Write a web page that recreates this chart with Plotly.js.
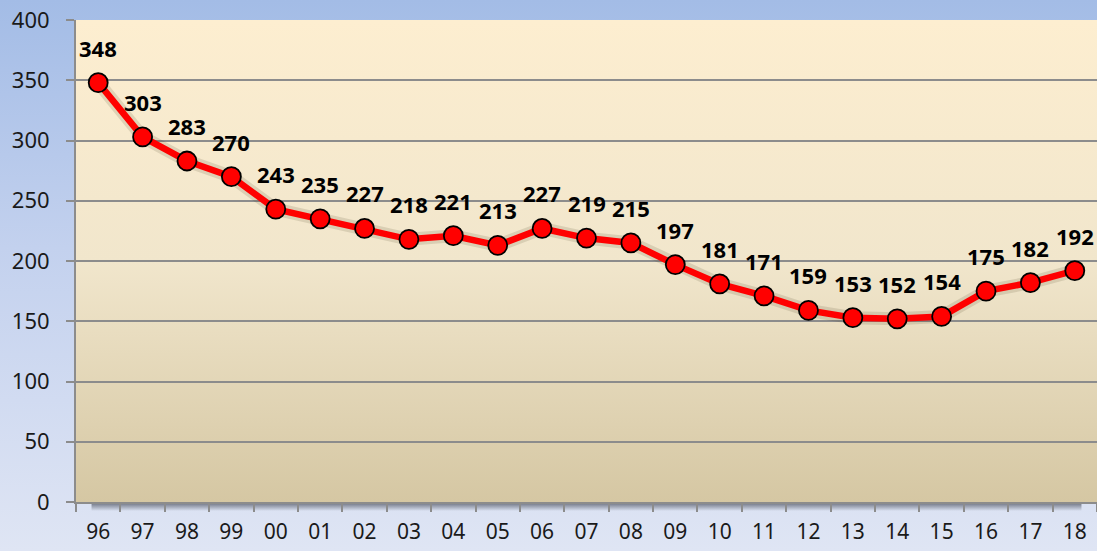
<!DOCTYPE html>
<html>
<head>
<meta charset="utf-8">
<script src="https://cdn.plot.ly/plotly-3.0.1.min.js"></script>
<style>
  html, body { margin: 0; padding: 0; }
  #chart { width: 1097px; height: 551px; background: linear-gradient(to bottom, #a3bce6 0%, #c3d1ee 45%, #dfe5f4 100%); }
</style>
</head>
<body>
<div id="chart"></div>
<script>
const years = ["96","97","98","99","00","01","02","03","04","05","06","07","08","09","10","11","12","13","14","15","16","17","18"];
const values = [348,303,283,270,243,235,227,218,221,213,227,219,215,197,181,171,159,153,152,154,175,182,192];
const yTicks = [0,50,100,150,200,250,300,350,400];

const plotBg = 'data:image/svg+xml;utf8,' + encodeURIComponent(
  '<svg xmlns="http://www.w3.org/2000/svg" width="100" height="100" preserveAspectRatio="none">' +
  '<defs><linearGradient id="g" x1="0" y1="0" x2="0" y2="1">' +
  '<stop offset="0" stop-color="#fdeed0"/><stop offset="0.5" stop-color="#f1e6cc"/><stop offset="1" stop-color="#d5c7a3"/>' +
  '</linearGradient></defs><rect width="100" height="100" fill="url(#g)"/></svg>');

const bottomShadow = 'data:image/svg+xml;utf8,' + encodeURIComponent(
  '<svg xmlns="http://www.w3.org/2000/svg" width="100" height="10" preserveAspectRatio="none">' +
  '<defs><linearGradient id="s" x1="0" y1="0" x2="0" y2="1">' +
  '<stop offset="0" stop-color="#3a3f4c" stop-opacity="0.75"/><stop offset="1" stop-color="#3a3f4c" stop-opacity="0"/>' +
  '</linearGradient></defs><rect width="100" height="10" fill="url(#s)"/></svg>');

const shadow = {
  x: years, y: values, type: 'scatter', mode: 'lines',
  line: {color: 'rgba(40,30,0,0.12)', width: 13},
  hoverinfo: 'skip', showlegend: false, cliponaxis: false
};
const main = {
  x: years, y: values, type: 'scatter', mode: 'lines+markers',
  line: {color: '#ff0000', width: 6.5},
  marker: {size: 19, color: '#ff0000', line: {color: '#000000', width: 1.8}},
  showlegend: false, cliponaxis: false
};

// category axis: annotations located by category index (labels like "00" would be read as numbers)
const annotations = years.map((yr, i) => ({
  x: i, y: values[i], text: String(values[i]), showarrow: false,
  yshift: 35,
  font: {family: 'Noto Sans, sans-serif', size: 22, color: '#000000', weight: 'bold'}
}));

const layout = {
  width: 1097, height: 551,
  margin: {l: 76, r: 0, t: 20, b: 49, pad: 0},
  paper_bgcolor: 'rgba(0,0,0,0)',
  plot_bgcolor: 'rgba(0,0,0,0)',
  font: {family: 'Noto Sans, sans-serif', color: '#1a1a1a', size: 22},
  xaxis: {
    type: 'category', range: [-0.5, 22.5], tickson: 'boundaries',
    ticks: 'outside', ticklen: 8, tickwidth: 2, tickcolor: '#8c8c8c',
    showgrid: false, showline: true, linecolor: '#8c8c8c', linewidth: 2,
    tickfont: {size: 21, color: '#1a1a1a'}, ticklabelstandoff: 10,
    fixedrange: true
  },
  yaxis: {
    range: [0, 400], tickvals: yTicks, ticktext: yTicks.map(String),
    ticks: 'outside', ticklen: 8, tickwidth: 2, tickcolor: '#8c8c8c',
    showgrid: true, gridcolor: '#8c8c8c', gridwidth: 2,
    zeroline: false, showline: true, linecolor: '#8c8c8c', linewidth: 2,
    tickfont: {size: 22, color: '#1a1a1a'}, ticklabelstandoff: 12,
    fixedrange: true
  },
  images: [
    {
      source: bottomShadow, xref: 'paper', yref: 'paper', x: 0.015, y: 0, sizex: 0.97, sizey: 9 / 482,
      xanchor: 'left', yanchor: 'top', sizing: 'stretch', layer: 'below'
    },
    {
      source: plotBg, xref: 'paper', yref: 'paper', x: 0, y: 1, sizex: 1, sizey: 1,
      xanchor: 'left', yanchor: 'top', sizing: 'stretch', layer: 'below'
    }
  ],
  annotations: annotations
};

Plotly.newPlot('chart', [shadow, main], layout, {displayModeBar: false, staticPlot: true});
</script>
</body>
</html>
